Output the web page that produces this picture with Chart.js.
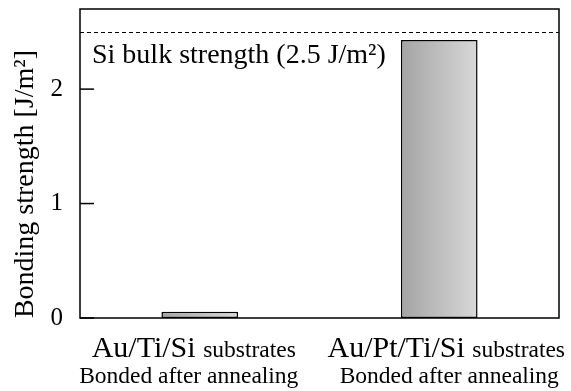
<!DOCTYPE html>
<html>
<head>
<meta charset="utf-8">
<script src="https://cdn.jsdelivr.net/npm/chart.js@4"></script>
<style>
html,body{margin:0;padding:0;background:#fff;}
#wrap{width:571px;height:391px;}
</style>
</head>
<body>
<div id="wrap"><canvas id="grafica"></canvas></div>
<script>
const categorias = ["Au/Ti/Si", "Au/Pt/Ti/Si"];
const subtitulo = "substrates";
const linea2 = "Bonded after annealing";
const fuerza = [0.055, 2.43];
const siBulk = 2.5;
const textoBulk = "Si bulk strength (2.5 J/m²)";
const ejeY = "Bonding strength [J/m²]";
const ticksY = [0, 1, 2];

const serif = "'Liberation Serif', 'Times New Roman', serif";
// desplazamientos de las etiquetas respecto al centro de cada barra
const despl1 = [-6, 7];
const despl2 = [-11, 10];

function degradado(context){
const chart = context.chart;
const x = chart.scales.x;
if (!x || !chart.chartArea) return "#bbbbbb";
const el = chart.getDatasetMeta(0).data[context.dataIndex];
const w = el && el.width ? el.width : 76;
const cx = x.getPixelForValue(context.dataIndex);
const g = chart.ctx.createLinearGradient(cx - w / 2, 0, cx + w / 2, 0);
g.addColorStop(0, "#a4a4a4");
g.addColorStop(1, "#d8d8d8");
return g;
}

const extras = {
id: "extras",
afterDatasetsDraw(chart){
const ctx = chart.ctx;
const a = chart.chartArea;
const y = chart.scales.y;
const x = chart.scales.x;
ctx.save();

// linea punteada Si bulk
const yb = y.getPixelForValue(siBulk);
ctx.strokeStyle = "#000";
ctx.lineWidth = 1;
ctx.setLineDash([4, 3]);
ctx.beginPath();
ctx.moveTo(a.left, Math.round(yb) + 0.5);
ctx.lineTo(a.right, Math.round(yb) + 0.5);
ctx.stroke();
ctx.setLineDash([]);

// marco
ctx.lineWidth = 1.5;
ctx.strokeRect(a.left, a.top, a.right - a.left, a.bottom - a.top);

// ticks hacia adentro
ticksY.forEach(v => {
const py = y.getPixelForValue(v);
ctx.beginPath();
ctx.moveTo(a.left, py);
ctx.lineTo(a.left + 14, py);
ctx.stroke();
});

ctx.fillStyle = "#000";
ctx.textBaseline = "alphabetic";
ctx.font = "28px " + serif;
ctx.textAlign = "left";
ctx.fillText(textoBulk, a.left + 12, 63);

// etiquetas x
categorias.forEach((c, i) => {
const cx = x.getPixelForValue(i);
ctx.font = "30px " + serif;
const w1 = ctx.measureText(c + " ").width;
ctx.font = "23.5px " + serif;
const w2 = ctx.measureText(subtitulo).width;
const x0 = cx + despl1[i] - (w1 + w2) / 2;
ctx.textAlign = "left";
ctx.font = "30px " + serif;
ctx.fillText(c, x0, 357);
ctx.font = "23.5px " + serif;
ctx.fillText(subtitulo, x0 + w1, 357);
ctx.textAlign = "center";
ctx.font = "23.5px " + serif;
ctx.fillText(linea2, cx + despl2[i], 383);
});

// titulo eje y
ctx.translate(33, 184);
ctx.rotate(-Math.PI / 2);
ctx.textAlign = "center";
ctx.font = "28px " + serif;
ctx.fillText(ejeY, 0, 0);
ctx.restore();
}
};

new Chart(document.getElementById("grafica"), {
type: "bar",
data: {
labels: categorias,
datasets: [{
data: fuerza,
backgroundColor: degradado,
borderColor: "#000",
borderWidth: 1.5,
borderSkipped: false,
categoryPercentage: 1,
barPercentage: 0.32
}]
},
options: {
responsive: true,
maintainAspectRatio: false,
animation: false,
layout: { padding: { top: 9, right: 12, left: 0, bottom: 0 } },
plugins: { legend: { display: false }, tooltip: { enabled: false } },
scales: {
x: {
grid: { display: false },
border: { display: false },
ticks: { display: false },
afterFit: s => { s.height = 73; s.paddingLeft = 0; s.paddingRight = 0; }
},
y: {
min: 0,
max: 2.7,
afterBuildTicks: s => { s.ticks = ticksY.map(v => ({ value: v })); },
grid: { display: false },
border: { display: false },
ticks: {
color: "#000",
padding: 9,
font: { family: serif, size: 25 }
},
afterFit: s => { s.width = 80; s.paddingTop = 0; s.paddingBottom = 0; }
}
}
},
plugins: [extras]
});
</script>
</body>
</html>
